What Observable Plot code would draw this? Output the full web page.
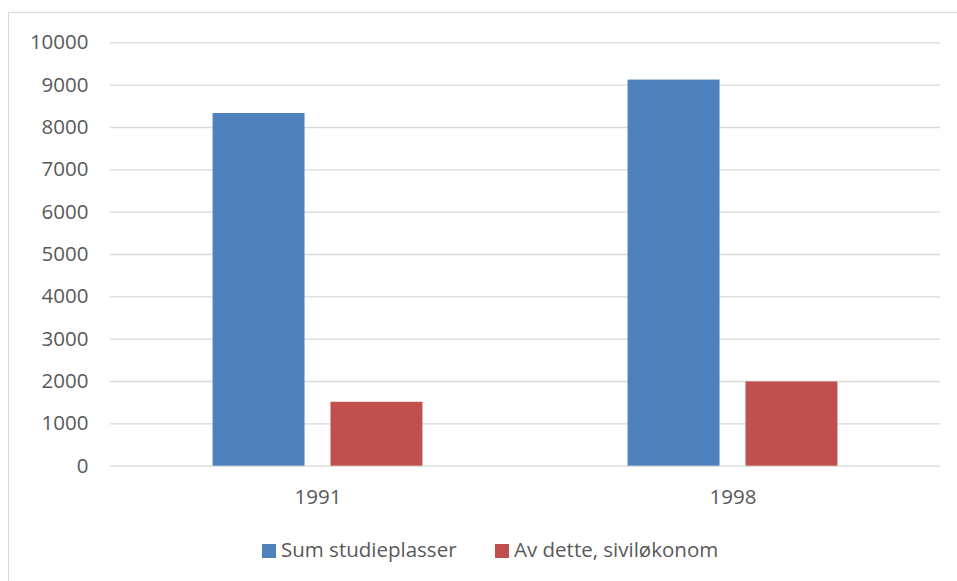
<!DOCTYPE html>
<html>
<head>
<meta charset="utf-8">
<script src="https://cdn.jsdelivr.net/npm/d3@7"></script>
<script src="https://cdn.jsdelivr.net/npm/@observablehq/plot@0.6"></script>
<style>
  html, body { margin: 0; padding: 0; background: #fff; width: 957px; height: 581px; overflow: hidden; }
  #frame { position: absolute; left: 8px; top: 12px; width: 1000px; height: 1000px; border: 1.3px solid #d9d9d9; box-sizing: border-box; }
  #chart { position: absolute; left: 0; top: 0; }
  .lg { position: absolute; font-family: "Open Sans", sans-serif; font-size: 20.5px; color: #595959; white-space: nowrap; line-height: 26px; }
  .sw { position: absolute; width: 14px; height: 14px; }
</style>
</head>
<body>
<div id="frame"></div>
<div id="chart"></div>
<div class="sw" style="left:262px; top:544px; background:#4f81bd"></div>
<div class="lg" id="l1" style="left:281px; top:536px"></div>
<div class="sw" style="left:495px; top:544px; background:#c0504d"></div>
<div class="lg" id="l2" style="left:514px; top:536px"></div>
<script>
const years = ["1991", "1998"];
const series = ["Sum studieplasser", "Av dette, siviløkonom"];
const sumStudieplasser = [8330, 9120];
const sivilokonom = [1510, 1990];
const yTicks = [0, 1000, 2000, 3000, 4000, 5000, 6000, 7000, 8000, 9000, 10000];
const colors = ["#4f81bd", "#c0504d"];

const data = [];
years.forEach((y, i) => {
  data.push({year: y, series: series[0], value: sumStudieplasser[i]});
  data.push({year: y, series: series[1], value: sivilokonom[i]});
});

document.getElementById("l1").textContent = series[0];
document.getElementById("l2").textContent = series[1];

const chart = Plot.plot({
  width: 957,
  height: 520,
  marginLeft: 109,
  marginRight: 17,
  marginTop: 42.3,
  marginBottom: 54.3,
  style: {fontFamily: "Open Sans, sans-serif", fontSize: "20.5px", color: "#595959", background: "none", overflow: "visible"},
  fx: {domain: years, padding: 0, label: null, tickSize: 0, tickPadding: 23.5},
  x: {domain: series, axis: null, paddingInner: 0.22, paddingOuter: 0.87, round: false},
  y: {domain: [0, 10000], ticks: yTicks, tickFormat: d => String(d), tickSize: 0, tickPadding: 22, label: null},
  color: {domain: series, range: colors},
  marks: [
    Plot.ruleY(yTicks, {stroke: "#d9d9d9", strokeWidth: 1.3}),
    Plot.barY(data, {fx: "year", x: "series", y: "value", fill: "series"})
  ]
});
document.getElementById("chart").appendChild(chart);
</script>
</body>
</html>
